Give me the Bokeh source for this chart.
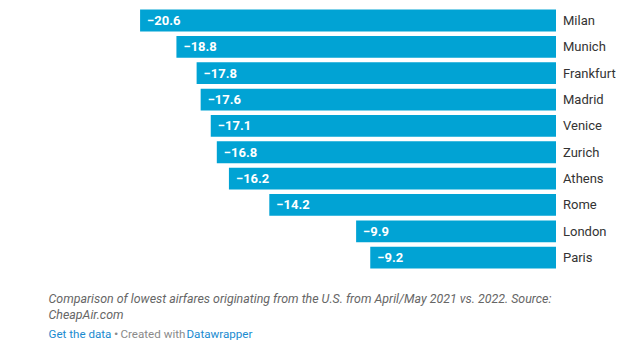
from bokeh.plotting import figure
from bokeh.models import Range1d, ColumnDataSource, Label
from bokeh.core.properties import value
from bokeh.embed import file_html
from bokeh.resources import INLINE

cities = ["Milan", "Munich", "Frankfurt", "Madrid", "Venice", "Zurich", "Athens", "Rome", "London", "Paris"]
changes = [-20.6, -18.8, -17.8, -17.6, -17.1, -16.8, -16.2, -14.2, -9.9, -9.2]

W, H = 639, 351
PX_PER_UNIT = 20.19
ZERO_PX = 555.5
ROW_PX = 26.35
FIRST_ROW_PX = 20.0

x0 = -ZERO_PX / PX_PER_UNIT
x1 = (W - ZERO_PX) / PX_PER_UNIT
y_top = FIRST_ROW_PX / ROW_PX
y_bot = -(H - FIRST_ROW_PX) / ROW_PX

ys = [-i for i in range(len(cities))]
src = ColumnDataSource(dict(
    y=ys,
    v=changes,
    zero=[0] * len(cities),
    lab=["\u2212" + f"{abs(c):.1f}" for c in changes],
    city=cities,
))

p = figure(width=W, height=H, output_backend="svg", toolbar_location=None,
           x_range=Range1d(x0, x1), y_range=Range1d(y_bot, y_top),
           min_border=0, min_border_left=0, min_border_right=0,
           min_border_top=0, min_border_bottom=0)
p.axis.visible = False
p.grid.visible = False
p.outline_line_color = None
p.background_fill_color = "white"
p.border_fill_color = "white"

p.hbar(y="y", left="v", right="zero", height=21.8 / ROW_PX, source=src,
       fill_color="#01a3d4", line_color=None)

p.text(x="v", y="y", text="lab", source=src, x_offset=7,
       text_font=value("Roboto"), text_font_size="13px", text_font_style="bold",
       text_color="white", text_baseline="middle", text_align="left")

p.text(x="zero", y="y", text="city", source=src, x_offset=7,
       text_font=value("Roboto"), text_font_size="13px",
       text_color="#333333", text_baseline="middle", text_align="left")

def lab(x, y, txt, color, size, style="normal", font="Roboto"):
    p.add_layout(Label(x=x, y=H - y, x_units="screen", y_units="screen", text=txt,
                       text_font=font, text_font_size=size, text_font_style=style,
                       text_color=color, text_baseline="middle", text_align="left"))

lab(48, 298, "Comparison of lowest airfares originating from the U.S. from April/May 2021 vs. 2022. Source:", "#666666", "12.4px", "italic")
lab(48, 314, "CheapAir.com", "#666666", "12.4px", "italic")
lab(48, 333, "Get the data", "#1a8bd0", "11.6px")
lab(113, 333, "\u2022", "#8a8a8a", "9px", font="DejaVu Sans")
lab(120, 333, "Created with", "#8a8a8a", "11.6px")
lab(186, 333, "Datawrapper", "#1a8bd0", "11.6px")

open("out.html", "w").write(file_html(p, INLINE))
